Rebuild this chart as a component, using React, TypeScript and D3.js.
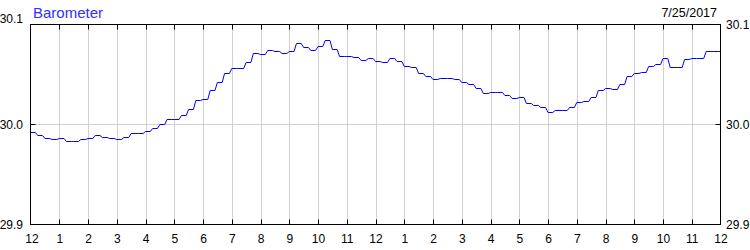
import React from "react";
import * as d3 from "d3";

const TITLE = "Barometer";
const DATE_LABEL = "7/25/2017";

// Barometric pressure (inHg), one reading every 15 minutes from 12 AM to 12 AM
const STEP_MINUTES = 15;
const pressure: number[] = [
  29.992, 29.989, 29.986, 29.985, 29.986, 29.983, 29.983, 29.985, 29.986, 29.989,
  29.987, 29.986, 29.985, 29.987, 29.991, 29.991, 29.993, 29.996, 30.0, 30.005,
  30.005, 30.009, 30.015, 30.024, 30.025, 30.034, 30.042, 30.051, 30.056, 30.056,
  30.062, 30.071, 30.07, 30.074, 30.073, 30.071, 30.073, 30.081, 30.077, 30.074,
  30.078, 30.084, 30.075, 30.068, 30.068, 30.067, 30.064, 30.066, 30.063, 30.062,
  30.066, 30.063, 30.058, 30.057, 30.051, 30.048, 30.045, 30.046, 30.046, 30.045,
  30.042, 30.04, 30.036, 30.031, 30.032, 30.032, 30.029, 30.026, 30.027, 30.021,
  30.019, 30.017, 30.012, 30.014, 30.014, 30.017, 30.022, 30.023, 30.027, 30.034,
  30.036, 30.035, 30.04, 30.048, 30.051, 30.052, 30.058, 30.06, 30.066, 30.057,
  30.057, 30.065, 30.066, 30.066, 30.073, 30.073, 30.073,
];

const hourLabels: string[] = [
  "12", "1", "2", "3", "4", "5", "6", "7", "8", "9", "10", "11",
  "12", "1", "2", "3", "4", "5", "6", "7", "8", "9", "10", "11", "12",
];
const yTicks: number[] = [29.9, 30.0, 30.1];
const yTickLabels: string[] = ["29.9", "30.0", "30.1"];

const W = 750;
const H = 250;
const L = 30.5;
const R = 720.5;
const T = 24.5;
const B = 224.5;
const FONT = "'Liberation Sans', Arial, sans-serif";

export default function App() {
  const x = d3.scaleLinear().domain([0, 24 * 60]).range([L, R]);
  const y = d3.scaleLinear().domain([29.9, 30.1]).range([B, T]);

  // reading held for 10 minutes, then moves to the next reading
  const pts: [number, number][] = [];
  pressure.forEach((v, i) => {
    const t = i * STEP_MINUTES;
    pts.push([t, v]);
    if (i < pressure.length - 1) pts.push([t + 10, v]);
  });
  const line = d3
    .line<[number, number]>()
    .x((d) => x(d[0]))
    .y((d) => y(d[1]));

  const hours = hourLabels.map((_, i) => i * 60);

  return (
    <svg
      width={W}
      height={H}
      style={{ position: "absolute", left: 0, top: 0, background: "#fff" }}
      fontFamily={FONT}
    >
      <rect x={0} y={0} width={W} height={H} fill="#fff" />
      {/* vertical gridlines */}
      {hours.slice(1, -1).map((h) => (
        <line
          key={"g" + h}
          x1={Math.round(x(h)) + 0.5}
          x2={Math.round(x(h)) + 0.5}
          y1={T}
          y2={B}
          stroke="#d0d0d0"
          strokeWidth={1}
        />
      ))}
      {/* horizontal gridline */}
      {yTicks.slice(1, -1).map((v) => (
        <line key={"hg" + v} x1={L} x2={R} y1={y(v)} y2={y(v)} stroke="#d0d0d0" />
      ))}
      {/* hour ticks top & bottom */}
      {hours.slice(1, -1).map((h) => (
        <g key={"t" + h}>
          <line
            x1={Math.round(x(h)) + 0.5}
            x2={Math.round(x(h)) + 0.5}
            y1={T}
            y2={T + 5}
            stroke="#000"
          />
          <line
            x1={Math.round(x(h)) + 0.5}
            x2={Math.round(x(h)) + 0.5}
            y1={B}
            y2={B - 5}
            stroke="#000"
          />
        </g>
      ))}
      {/* y ticks */}
      {yTicks.slice(1, -1).map((v) => (
        <g key={"yt" + v}>
          <line x1={L} x2={L + 5} y1={y(v)} y2={y(v)} stroke="#000" />
          <line x1={R} x2={R - 5} y1={y(v)} y2={y(v)} stroke="#000" />
        </g>
      ))}
      {/* data line */}
      <path d={line(pts) || ""} fill="none" stroke="#0000ff" strokeWidth={1} />
      {/* frame */}
      <rect x={L} y={T} width={R - L} height={B - T} fill="none" stroke="#000" strokeWidth={1} />
      {/* y labels */}
      {yTicks.map((v, i) => (
        <g key={"yl" + v}>
          <text
            x={23}
            y={i === yTicks.length - 1 ? y(v) - 2 : y(v) + 4.5}
            textAnchor="end"
            fontSize={12}
            fill="#000"
          >
            {yTickLabels[i]}
          </text>
          <text x={726} y={y(v) + 4.5} textAnchor="start" fontSize={12} fill="#000">
            {yTickLabels[i]}
          </text>
        </g>
      ))}
      {/* x labels */}
      {hours.map((h, i) => (
        <text
          key={"xl" + i}
          x={x(h) + (i === 0 ? 1.5 : 0.5)}
          y={243}
          textAnchor="middle"
          fontSize={12}
          fill="#000"
        >
          {hourLabels[i]}
        </text>
      ))}
      <text x={33} y={17.5} fontSize={15} fill="#3030ff">
        {TITLE}
      </text>
      <text x={717} y={17} textAnchor="end" fontSize={12.5} fill="#000">
        {DATE_LABEL}
      </text>
    </svg>
  );
}
